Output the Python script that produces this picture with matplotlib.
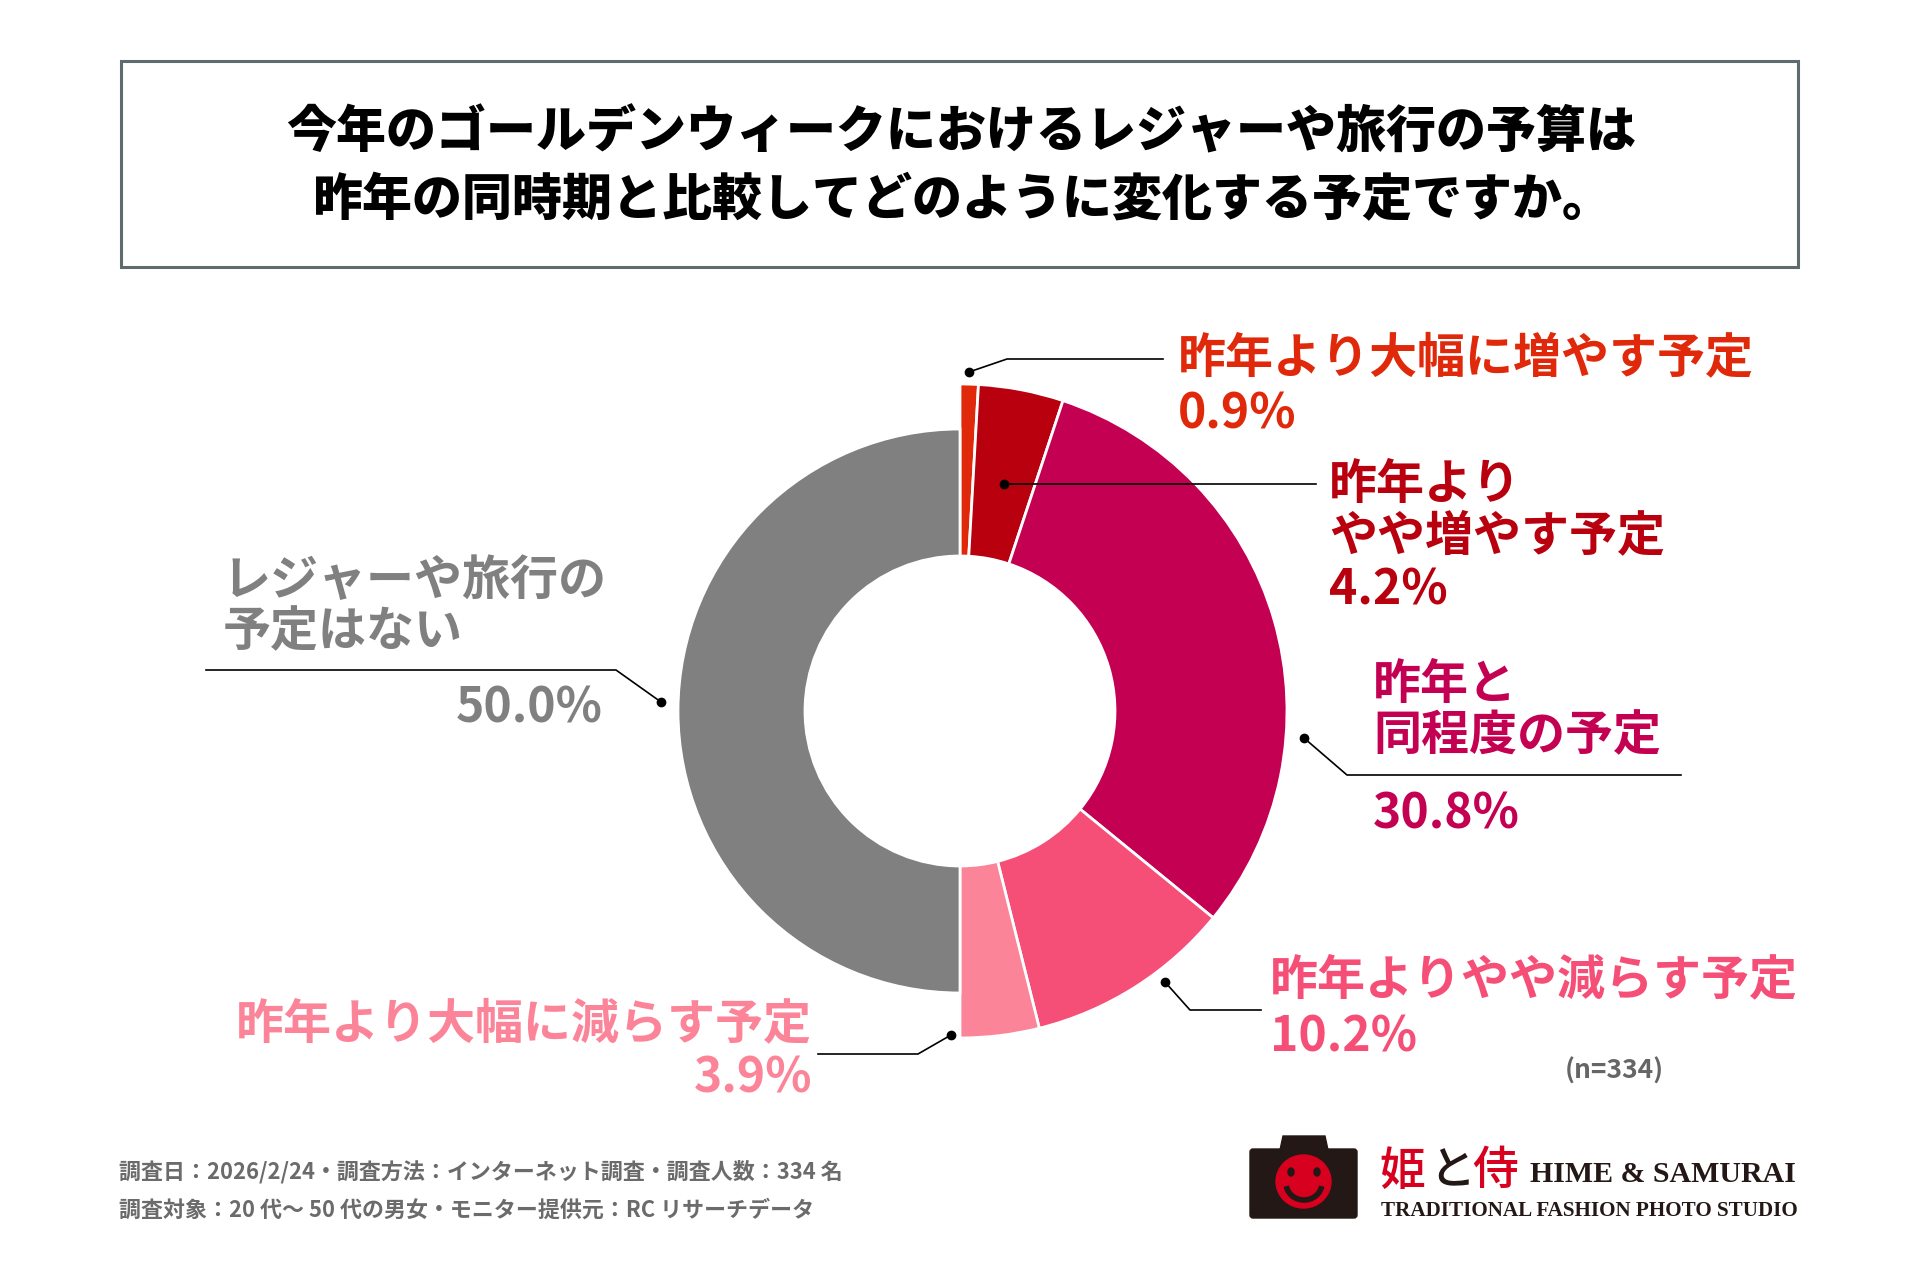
import matplotlib.pyplot as plt
from matplotlib.patches import Rectangle, FancyBboxPatch, Polygon, Ellipse, Arc

plt.rcParams['font.family'] = ['Noto Sans CJK JP', 'DejaVu Sans']

# data
categories = ['昨年より大幅に増やす予定', '昨年より\nやや増やす予定', '昨年と\n同程度の予定',
              '昨年よりやや減らす予定', '昨年より大幅に減らす予定', 'レジャーや旅行の\n予定はない']
values = [0.9, 4.2, 30.8, 10.2, 3.9, 50.0]
colors = ['#e0290a', '#b9000f', '#c40052', '#f64f77', '#fc8499', '#808080']
n_total = 334

title_lines = ['今年のゴールデンウィークにおけるレジャーや旅行の予算は',
               '昨年の同時期と比較してどのように変化する予定ですか。']
notes = ['調査日：2026/2/24・調査方法：インターネット調査・調査人数：334 名',
         '調査対象：20 代～ 50 代の男女・モニター提供元：RC リサーチデータ']

W, H = 1920, 1280


def Y(y):
    return H - y


fig = plt.figure(figsize=(19.2, 12.8), dpi=100)
ax = fig.add_axes([0, 0, 1, 1])

# donut
cx, cy = 960, 711
r_out, r_gray, r_in = 327, 282, 155
wedges, _ = ax.pie(values, colors=colors, startangle=90, counterclock=False,
                   center=(cx, Y(cy)), radius=r_out,
                   wedgeprops=dict(width=r_out - r_in, edgecolor='white', linewidth=2))
wedges[-1].set_radius(r_gray)
wedges[-1].set_width(r_gray - r_in)

ax.set_xlim(0, W)
ax.set_ylim(0, H)
ax.set_aspect('equal')
ax.axis('off')

# title box
ax.add_patch(Rectangle((121, Y(267)), 1677, 206, fill=False, edgecolor='#5f6b6e', lw=2.2))
ax.text(961, Y(132), title_lines[0], ha='center', va='center', fontsize=36,
        fontweight='black', color='black')
ax.text(963, Y(200), title_lines[1], ha='center', va='center', fontsize=36,
        fontweight='black', color='black')

# leader lines: dot first, then elbow, then end
leaders = [
    [(969, 372), (1007, 359), (1163, 359)],
    [(1004, 484), (1316, 484)],
    [(1304, 738), (1347, 775), (1681, 775)],
    [(1165, 982), (1190, 1010), (1261, 1010)],
    [(951, 1035), (918, 1054), (818, 1054)],
    [(661, 702), (616, 670), (206, 670)],
]
for pts in leaders:
    ax.plot([p[0] for p in pts], [Y(p[1]) for p in pts], color='black', lw=1.2)
    ax.plot(pts[0][0], Y(pts[0][1]), 'o', color='black', ms=6)

# label layout: (x, name_y, pct_y, ha)
layout = [
    (1178, 358, 414, 'left'),
    (1329, 510, 590, 'left'),
    (1373, 710, 814, 'left'),
    (1270, 980, 1037, 'left'),
    (812, 1024, 1078, 'right'),
    (223, 606, 708, 'left'),
]
for i, (x, ny, py, ha) in enumerate(layout):
    ax.text(x, Y(ny), categories[i], ha=ha, va='center', fontsize=34.6, fontweight='bold',
            color=colors[i], linespacing=1.05)
    px = 603 if i == 5 else x
    pha = 'right' if i == 5 else ha
    ax.text(px, Y(py), f'{values[i]:.1f}%', ha=pha, va='center', fontsize=34.6,
            fontweight='bold', color=colors[i])

ax.text(1565, Y(1071), f'(n={n_total})', ha='left', va='center', fontsize=19,
        fontweight='bold', color='#666666')

# footer notes
ax.text(119, Y(1172), notes[0], ha='left', va='center', fontsize=15.8, fontweight='bold', color='#6b6b6b')
ax.text(119, Y(1210), notes[1], ha='left', va='center', fontsize=15.8, fontweight='bold', color='#6b6b6b')

# logo
dark = '#231815'
red = '#d7001e'
ax.add_patch(Polygon([(1280, Y(1150)), (1283, Y(1136)), (1325, Y(1136)), (1328, Y(1150))],
                     closed=True, color=dark))
ax.add_patch(FancyBboxPatch((1253, Y(1215)), 101, 63, boxstyle='round,pad=3', color=dark))
ax.add_patch(Ellipse((1303.5, Y(1181.5)), 55, 53, color=red))
ax.add_patch(Ellipse((1291, Y(1172)), 6, 8, color=dark))
ax.add_patch(Ellipse((1317, Y(1172)), 6, 8, color=dark))
ax.add_patch(Arc((1304, Y(1183)), 36, 34, theta1=190, theta2=350, color=dark, lw=4))

ax.text(1402, Y(1171), '姫', ha='center', va='center', fontsize=33, color=red, fontweight='medium')
ax.text(1452, Y(1171), 'と', ha='center', va='center', fontsize=33, color=dark, fontweight='medium')
ax.text(1495, Y(1171), '侍', ha='center', va='center', fontsize=33, color=red, fontweight='medium')
ax.text(1530, Y(1174), 'HIME & SAMURAI', ha='left', va='center', fontsize=21.5,
        family='Liberation Serif', fontweight='bold', color=dark)
ax.text(1381, Y(1211), 'TRADITIONAL FASHION PHOTO STUDIO', ha='left', va='center', fontsize=15.2,
        family='Liberation Serif', fontweight='bold', color=dark)

fig.savefig('out.png', dpi=100, facecolor='white')
